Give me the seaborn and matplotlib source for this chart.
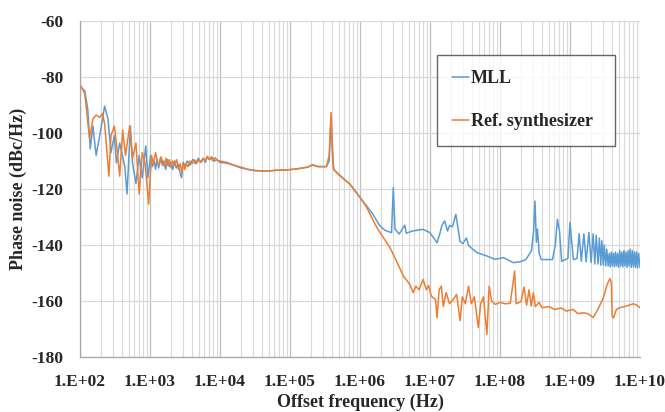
import matplotlib
matplotlib.use('Agg')
import matplotlib.pyplot as plt
import matplotlib.ticker as mticker
import seaborn as sns
import pandas as pd

# MLL phase noise
mll_freq = [1.00e2, 1.17e2, 1.29e2, 1.40e2, 1.53e2, 1.70e2, 1.91e2, 2.25e2, 2.51e2, 2.77e2,
            3.09e2, 3.31e2, 3.69e2, 4.37e2, 4.70e2, 5.25e2, 5.62e2, 6.30e2, 7.00e2, 7.76e2,
            8.70e2, 9.33e2, 1.02e3, 1.08e3, 1.15e3, 1.20e3, 1.26e3, 1.33e3, 1.41e3, 1.50e3,
            1.58e3, 1.68e3, 1.78e3, 1.88e3, 2.00e3, 2.12e3, 2.24e3, 2.37e3, 2.51e3, 2.65e3,
            2.82e3, 2.98e3, 3.16e3, 3.40e3, 3.72e3, 4.07e3, 4.47e3, 4.90e3, 5.25e3, 5.75e3,
            6.17e3, 6.60e3, 7.08e3, 7.60e3, 8.32e3, 9.10e3, 1.00e4, 1.26e4, 1.58e4, 2.00e4,
            2.51e4, 3.16e4, 4.47e4, 6.31e4, 8.91e4, 1.26e5, 1.78e5, 2.09e5, 2.51e5, 3.31e5,
            3.63e5, 3.85e5, 4.07e5, 4.20e5, 5.00e5, 7.20e5, 1.00e6, 1.24e6, 1.48e6, 1.74e6,
            1.93e6, 2.29e6, 2.82e6, 2.99e6, 3.16e6, 3.63e6, 4.37e6, 4.57e6, 5.62e6, 7.94e6,
            1.00e7, 1.26e7, 1.38e7, 1.48e7, 1.62e7, 1.78e7, 1.91e7, 2.09e7, 2.34e7, 2.51e7,
            2.69e7, 2.95e7, 3.31e7, 3.55e7, 4.68e7, 6.46e7, 8.51e7, 1.12e8, 1.55e8, 1.95e8,
            2.34e8, 2.82e8, 3.02e8, 3.16e8, 3.31e8, 3.43e8, 3.63e8, 3.89e8, 5.62e8, 6.17e8,
            6.61e8, 7.08e8, 7.59e8, 9.33e8, 1.00e9, 1.05e9, 1.12e9, 1.26e9, 1.35e9, 1.45e9,
            1.58e9, 1.70e9, 1.86e9, 2.00e9, 2.14e9, 2.26e9, 2.37e9, 2.51e9, 2.63e9, 2.75e9,
            2.85e9, 2.99e9, 3.09e9, 3.24e9, 3.35e9, 3.51e9, 3.63e9, 3.76e9, 3.89e9, 4.03e9,
            4.17e9, 4.32e9, 4.47e9, 4.62e9, 4.79e9, 4.95e9, 5.13e9, 5.31e9, 5.50e9, 5.69e9,
            5.89e9, 6.10e9, 6.31e9, 6.53e9, 6.76e9, 7.00e9, 7.24e9, 7.50e9, 7.76e9, 8.04e9,
            8.32e9, 8.61e9, 8.91e9, 9.23e9, 9.55e9, 1.00e10]
mll_pn = [-83.2, -85.0, -91.4, -105.7, -97.5, -108.0, -101.0, -90.4, -95.0, -107.0,
          -101.0, -110.7, -103.6, -112.0, -121.8, -97.5, -110.7, -118.0, -108.0, -116.0,
          -104.6, -116.0, -108.0, -112.0, -110.0, -113.0, -109.5, -112.5, -109.0, -111.5,
          -110.0, -113.0, -109.5, -112.0, -110.5, -113.0, -110.0, -112.5, -111.0, -113.5,
          -116.0, -110.5, -112.0, -110.0, -111.5, -109.5, -111.0, -109.0, -110.5, -109.0,
          -110.5, -108.5, -109.5, -108.5, -110.0, -109.5, -110.5, -110.8, -111.5, -112.5,
          -113.0, -113.5, -113.6, -113.3, -113.2, -112.8, -112.2, -111.5, -112.0, -112.0,
          -110.0, -95.0, -110.0, -113.0, -114.8, -118.3, -123.0, -126.0, -128.5, -131.4,
          -133.2, -134.8, -135.6, -119.5, -134.3, -136.1, -132.9, -135.8, -135.0, -134.4,
          -135.6, -139.2, -136.0, -133.0, -131.4, -135.0, -133.0, -133.5, -129.0, -134.0,
          -138.8, -139.5, -137.5, -140.2, -142.7, -143.9, -145.1, -144.5, -146.3, -146.0,
          -145.2, -142.0, -135.0, -124.3, -139.0, -134.3, -143.0, -145.2, -145.2, -140.0,
          -130.8, -135.0, -145.8, -144.8, -132.0, -138.0, -145.2, -144.8, -136.0, -145.8,
          -136.0, -146.0, -135.5, -146.3, -136.0, -146.8, -136.5, -146.8, -137.5, -147.2,
          -138.5, -147.2, -140.0, -147.5, -141.5, -147.5, -143.0, -147.8, -142.5, -147.5,
          -143.0, -147.8, -142.5, -147.5, -143.0, -148.0, -142.0, -147.5, -142.5, -147.8,
          -142.0, -147.5, -142.5, -148.0, -142.0, -147.5, -141.5, -148.0, -142.0, -147.8,
          -142.5, -148.0, -142.5, -148.2, -143.0, -148.0]

# reference synthesizer phase noise
ref_freq = [1.00e2, 1.17e2, 1.37e2, 1.53e2, 1.70e2, 1.91e2, 2.09e2, 2.25e2, 2.59e2, 2.77e2,
            3.09e2, 3.31e2, 3.69e2, 4.07e2, 4.47e2, 5.12e2, 5.62e2, 6.30e2, 7.00e2, 7.76e2,
            8.50e2, 9.56e2, 1.05e3, 1.12e3, 1.20e3, 1.28e3, 1.35e3, 1.43e3, 1.50e3, 1.60e3,
            1.70e3, 1.80e3, 1.90e3, 2.00e3, 2.10e3, 2.25e3, 2.40e3, 2.55e3, 2.70e3, 2.85e3,
            3.00e3, 3.15e3, 3.30e3, 3.50e3, 3.70e3, 4.00e3, 4.30e3, 4.65e3, 5.00e3, 5.40e3,
            5.80e3, 6.20e3, 6.60e3, 7.00e3, 7.40e3, 7.90e3, 8.50e3, 9.20e3, 1.00e4, 1.26e4,
            1.58e4, 2.00e4, 2.51e4, 3.16e4, 4.47e4, 6.31e4, 8.91e4, 1.26e5, 1.78e5, 2.09e5,
            2.51e5, 3.31e5, 3.63e5, 3.85e5, 4.07e5, 4.20e5, 5.00e5, 7.20e5, 1.00e6, 1.24e6,
            1.74e6, 2.69e6, 3.31e6, 4.17e6, 5.13e6, 5.75e6, 6.30e6, 7.00e6, 7.94e6, 8.90e6,
            9.50e6, 1.05e7, 1.20e7, 1.26e7, 1.35e7, 1.45e7, 1.55e7, 1.70e7, 1.90e7, 2.14e7,
            2.40e7, 2.69e7, 2.90e7, 3.20e7, 3.55e7, 3.90e7, 4.30e7, 4.90e7, 5.30e7, 5.80e7,
            6.50e7, 7.00e7, 7.60e7, 8.50e7, 1.00e8, 1.20e8, 1.40e8, 1.62e8, 1.70e8, 2.00e8,
            2.20e8, 2.40e8, 2.60e8, 2.80e8, 3.00e8, 3.20e8, 3.60e8, 4.00e8, 5.00e8, 6.00e8,
            7.50e8, 8.90e8, 1.10e9, 1.30e9, 1.55e9, 1.80e9, 2.14e9, 2.50e9, 3.00e9, 3.40e9,
            3.72e9, 3.90e9, 4.00e9, 4.20e9, 4.60e9, 5.10e9, 6.00e9, 7.00e9, 8.00e9, 9.00e9,
            1.00e10]
ref_pn = [-82.5, -86.0, -102.0, -95.0, -93.6, -94.4, -93.0, -96.8, -115.4, -101.0,
          -97.5, -103.6, -115.4, -99.0, -108.0, -97.5, -109.0, -103.6, -121.8, -107.0,
          -110.7, -125.4, -108.0, -111.0, -107.0, -110.5, -111.5, -108.5, -110.0, -112.0,
          -109.0, -111.5, -109.5, -112.5, -110.0, -111.5, -109.5, -113.0, -111.0, -114.0,
          -110.5, -113.0, -111.0, -112.0, -110.0, -111.0, -109.5, -110.8, -109.5, -110.5,
          -109.0, -109.8, -108.3, -109.5, -108.8, -110.0, -108.8, -109.8, -110.0, -110.5,
          -111.5, -112.2, -113.0, -113.3, -113.7, -113.3, -113.2, -112.8, -112.2, -111.3,
          -112.0, -112.0, -108.0, -92.7, -106.0, -113.0, -115.0, -118.3, -123.0, -126.5,
          -133.8, -141.0, -145.7, -151.1, -154.0, -157.0, -154.7, -156.0, -152.3, -156.0,
          -154.5, -158.3, -159.5, -166.0, -156.0, -154.7, -162.0, -157.0, -161.0, -159.5,
          -157.6, -167.0, -158.5, -161.0, -154.7, -161.0, -158.5, -169.5, -161.0, -158.5,
          -171.9, -154.7, -160.0, -161.2, -160.5, -161.0, -160.8, -149.3, -161.0, -160.2,
          -155.0, -161.5, -156.0, -161.8, -157.0, -162.0, -160.5, -162.4, -162.0, -163.0,
          -162.5, -163.6, -163.0, -164.5, -164.2, -164.5, -165.9, -163.0, -158.8, -154.0,
          -152.0, -153.5, -165.5, -166.0, -163.0, -162.4, -162.0, -161.5, -161.0, -161.5,
          -162.4]

x_ticks = [1e2, 1e3, 1e4, 1e5, 1e6, 1e7, 1e8, 1e9, 1e10]
x_tick_labels = ['1.E+02', '1.E+03', '1.E+04', '1.E+05', '1.E+06',
                 '1.E+07', '1.E+08', '1.E+09', '1.E+10']
y_ticks = [-180, -160, -140, -120, -100, -80, -60]

sns.set_style('white')
plt.rcParams['font.family'] = ['Liberation Serif', 'DejaVu Serif']
plt.rcParams['font.weight'] = 'bold'
plt.rcParams['axes.unicode_minus'] = False

mll = pd.DataFrame({'freq': mll_freq, 'pn': mll_pn})
ref = pd.DataFrame({'freq': ref_freq, 'pn': ref_pn})

fig = plt.figure(figsize=(6.65, 4.12), dpi=100)
ax = fig.add_axes([0.1203, 0.1335, 0.8421, 0.8155])

sns.lineplot(data=mll, x='freq', y='pn', ax=ax, color='#5B9BD5', linewidth=1.1, label='MLL')
sns.lineplot(data=ref, x='freq', y='pn', ax=ax, color='#ED7D31', linewidth=1.1, label='Ref. synthesizer')

ax.set_xscale('log')
ax.set_xlim(1e2, 1e10)
ax.set_ylim(-180, -60)
ax.set_xticks(x_ticks, labels=x_tick_labels)
ax.set_yticks(y_ticks, labels=[str(v) for v in y_ticks])
ax.xaxis.set_minor_locator(mticker.LogLocator(base=10, subs=range(2, 10), numticks=100))
ax.xaxis.set_minor_formatter(mticker.NullFormatter())

ax.grid(True, which='major', axis='y', color='#D9D9D9', linewidth=0.9)
ax.grid(True, which='major', axis='x', color='#BFBFBF', linewidth=0.9)
ax.grid(True, which='minor', axis='x', color='#D9D9D9', linewidth=0.8)
ax.set_axisbelow(True)
ax.tick_params(axis='both', which='both', length=0, labelsize=12.5)
ax.tick_params(axis='x', pad=12)
ax.tick_params(axis='y', pad=12)
plt.setp(ax.get_xticklabels() + ax.get_yticklabels(), fontweight='bold')

for side in ['top', 'right']:
    ax.spines[side].set_visible(False)
for side in ['left', 'bottom']:
    ax.spines[side].set_color('#A6A6A6')
    ax.spines[side].set_linewidth(0.9)

ax.set_xlabel('Offset frequency (Hz)', fontsize=13, fontweight='bold', labelpad=3)
ax.set_ylabel('Phase noise (dBc/Hz)', fontsize=13, fontweight='bold', labelpad=3)

leg = ax.legend(loc='upper left', bbox_to_anchor=(0.6375, 0.899, 0.3175, 0.0), mode='expand',
                fontsize=13, frameon=True, fancybox=False, borderpad=0.85, labelspacing=1.45,
                handlelength=0.9, handletextpad=0.12, borderaxespad=0)
leg.get_frame().set_edgecolor('#404040')
leg.get_frame().set_linewidth(1.0)
for t in leg.get_texts():
    t.set_fontweight('bold')

fig.savefig('out.png', dpi=100)
